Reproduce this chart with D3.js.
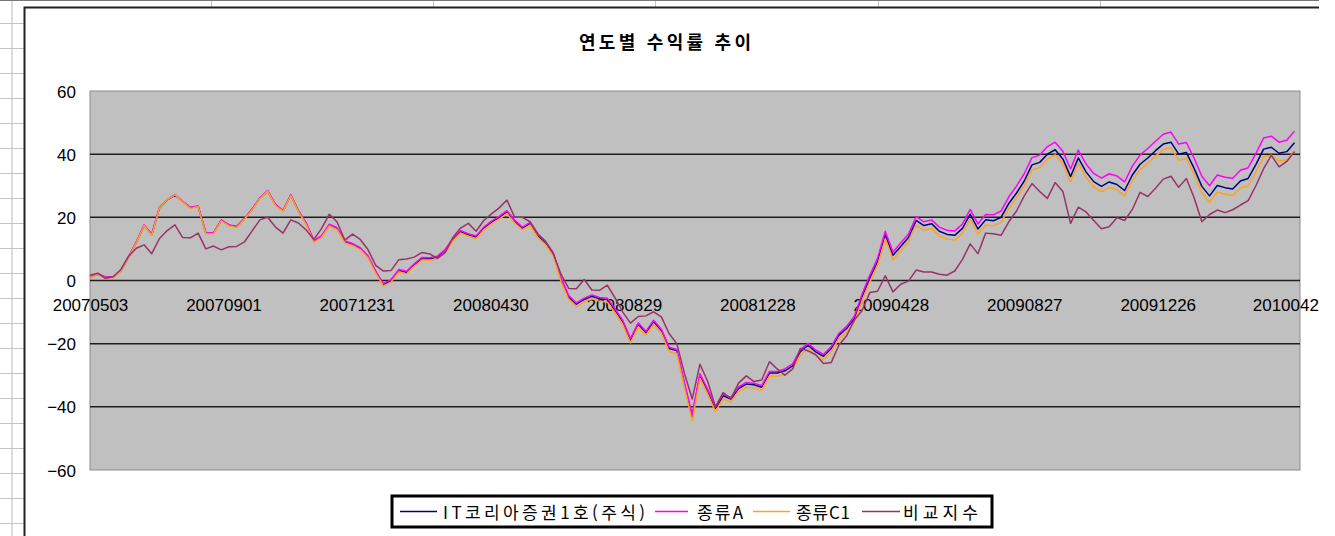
<!DOCTYPE html>
<html lang="ko">
<head>
<meta charset="UTF-8">
<title>연도별 수익률 추이</title>
<script src="https://d3js.org/d3.v7.min.js"></script>
<style>
  body { margin: 0; background: #fff; }
  svg { display: block; }
  .num { font-family: "Liberation Sans", Arial, sans-serif; font-size: 17px; fill: #000; }
  .kr { font-family: "Noto Sans CJK KR", "Noto Sans", sans-serif; fill: #000; }
</style>
</head>
<body>
<svg id="chart" width="1335" height="536"></svg>
<script>
// 날짜 축 (주 단위 관측, 2007-05-03 부터)
const startDate = "20070503";
const endDate = "20100504";
const stepDays = 7;
const tickLabels = ["20070503", "20070901", "20071231", "20080430", "20080829",
                    "20081228", "20090428", "20090827", "20091226", "20100425"];
const yTicks = [-60, -40, -20, 0, 20, 40, 60];

const seriesNames = ["IT코리아증권1호(주식)", "종류A", "종류C1", "비교지수"];
const seriesColors = ["#000080", "#ff00ff", "#ffa31a", "#993366"];

// IT코리아증권1호(주식)
const fundMain = [
  1, 2, 1, 1, 3, 7.5, 12, 17.5, 14.5, 23,
  25.5, 27, 25, 23, 23.5, 15, 15, 19, 17.5, 17,
  19.5, 22.5, 26, 28.3, 24, 22, 27, 22, 18, 12.5,
  14, 17.6, 16.5, 12.3, 11.5, 10.2, 7.6, 2.8, -1.2, 0,
  3.2, 2.6, 5, 7, 6.9, 7.4, 9.5, 13, 15.5, 14.5,
  13.8, 16.6, 18.5, 20, 21.8, 18.8, 16.6, 18.1, 14.2, 12,
  8.5, 0.5, -5.2, -7.5, -6, -5, -5.8, -6, -9.4, -13,
  -18.8, -13.8, -16.5, -13, -15.8, -21.5, -22.2, -33, -43, -30,
  -35, -40.5, -36.5, -37.5, -34.2, -32.8, -33, -33.8, -29.3, -29.3,
  -28.6, -27, -22.5, -20.5, -22.6, -24, -21.5, -17.3, -15.2, -12,
  -5.1, 0.8, 6, 14.5, 8, 10.8, 13.6, 19, 17.4, 18,
  15.6, 14.6, 14.3, 16.5, 21, 16.3, 19.2, 18.9, 20, 24.4,
  27.7, 31.5, 36.6, 37.4, 40, 41.4, 38.5, 32.9, 38.8, 34.4,
  31.3, 29.8, 31.2, 30.4, 28.5, 33.4, 36.8, 38.8, 41.1, 43.2,
  43.8, 40, 40.5, 35.5, 29.8, 26.8, 30.1, 29.4, 29, 31.5,
  32.3, 36.7, 41.6, 42.2, 40.3, 40.8, 43.6
];

// 종류A
const classA = [
  1.2, 2.2, 1.1, 1.2, 3.2, 7.6, 12.2, 17.6, 14.7, 23.1,
  25.6, 27.2, 25.1, 23.2, 23.6, 15.2, 15.1, 19.2, 17.6, 17.2,
  19.6, 22.7, 26.1, 28.5, 24.2, 22.1, 27.2, 22.1, 18.2, 12.7,
  14.2, 17.8, 16.7, 12.5, 11.7, 10.4, 7.8, 3, -1, 0.3,
  3.5, 2.9, 5.3, 7.3, 7.2, 7.7, 9.8, 13.3, 15.8, 14.8,
  14.1, 16.9, 18.8, 20.3, 22.1, 19.1, 16.9, 18.4, 14.5, 12.3,
  8.8, 0.9, -4.8, -7.1, -5.6, -4.6, -5.4, -5.6, -9, -12.6,
  -18.4, -13.4, -16.1, -12.6, -15.4, -21.1, -21.8, -32.5, -42.5, -29.5,
  -34.5, -40, -36, -37, -33.7, -32.3, -32.5, -33.3, -28.8, -28.8,
  -28, -26.4, -21.9, -19.9, -22, -23.4, -20.9, -16.7, -14.5, -11.3,
  -4.3, 1.7, 7, 15.6, 9, 11.9, 14.7, 20.2, 18.6, 19.2,
  16.9, 15.9, 15.7, 17.9, 22.5, 17.9, 20.9, 20.8, 22, 26.5,
  29.9, 33.8, 38.9, 39.7, 42.4, 43.8, 40.9, 35.3, 41.3, 36.9,
  33.9, 32.4, 33.8, 33.1, 31.2, 36.2, 39.7, 41.8, 44.1, 46.3,
  47, 43.2, 43.7, 38.7, 33, 30, 33.4, 32.7, 32.4, 34.9,
  35.7, 40.2, 45.1, 45.7, 43.8, 44.4, 47.3
];

// 종류C1
const classC1 = [
  0.9, 1.8, 0.8, 0.9, 2.9, 7.4, 11.9, 17.5, 14.3, 23,
  25.6, 27.1, 24.9, 22.8, 23.4, 14.8, 14.8, 18.9, 17.3, 16.8,
  19.4, 22.4, 25.9, 28.3, 23.8, 21.8, 26.9, 21.8, 17.7, 12.1,
  13.7, 17.3, 16.1, 11.9, 11.1, 9.8, 7.2, 2.3, -1.8, -0.5,
  2.7, 2.1, 4.5, 6.5, 6.4, 6.9, 9, 12.5, 15, 14,
  13.2, 16, 17.9, 19.4, 21.2, 18.2, 16, 17.5, 13.6, 11.3,
  7.8, -0.3, -6, -8.4, -6.8, -5.8, -6.6, -6.8, -10.3, -14,
  -19.8, -14.7, -17.4, -13.9, -16.7, -22.5, -23.2, -34, -44.5, -31,
  -36, -41.5, -37.5, -38.5, -35.2, -33.8, -34, -34.8, -30.3, -30.3,
  -29.7, -28.1, -23.6, -21.6, -23.7, -25.1, -22.6, -18.4, -16.4, -13.2,
  -6.3, -0.5, 4.7, 13.2, 6.6, 9.4, 12.2, 17.5, 15.9, 16.5,
  14.1, 13.1, 12.8, 15, 19.4, 14.7, 17.6, 17.3, 18.4, 22.8,
  26.1, 29.9, 35, 35.8, 38.4, 39.8, 36.9, 31.2, 37.1, 32.7,
  29.6, 28.1, 29.5, 28.7, 26.8, 31.7, 35.1, 37.1, 39.4, 41.5,
  42, 38.1, 38.6, 33.5, 27.8, 24.8, 28, 27.3, 26.9, 29.3,
  30, 34.3, 39.1, 39.7, 37.8, 38.2, 41
];

// 비교지수
const benchmark = [
  1.7, 2.3, 0.7, 1.2, 3.5, 7.7, 10.2, 11.3, 8.5, 13.3,
  15.8, 17.6, 13.6, 13.5, 15, 10, 10.9, 9.7, 10.7, 10.8,
  12.2, 15.7, 19.2, 20, 17, 15, 19.2, 18.2, 16, 13,
  16.5, 21, 18.5, 12.8, 14.7, 13, 9.8, 4.8, 3, 3.2,
  6.6, 6.8, 7.4, 8.9, 8.4, 7, 8.8, 13.6, 16.6, 18.1,
  15.6, 19, 21.1, 23, 25.5, 20, 20, 18.6, 14.8, 12.4,
  8.5, 2, -2.5, -2.6, 0.3, -3, -3.1, -1.5, -5.5, -10,
  -13.5, -11.4, -11.2, -9.9, -11.5, -16.8, -20, -29.5, -37.5, -26.5,
  -32, -40, -35.5, -37.5, -32.5, -30.2, -32, -31.5, -25.7, -28,
  -30, -28, -21.5, -22.3, -23.5, -26.3, -26, -20.4, -17.5, -12.5,
  -9.5, -3.8, -3.4, 1.5, -3.6, -1.2, -0.2, 3.3, 2.7, 2.7,
  2, 1.7, 3, 6.7, 11.6, 8.5, 15, 14.8, 14.3, 18.6,
  22, 26.8, 30.7, 28.2, 26, 31, 28.2, 18.1, 23.2, 21.7,
  19, 16.4, 17, 19.9, 19, 22.5, 27.9, 26.6, 29.2, 32.1,
  33, 29.5, 32.3, 26.2, 18.6, 20.9, 22.3, 21.5, 22.4, 23.9,
  25.3, 30, 35.4, 39.6, 36, 37.7, 40.8
];

const parse = d3.timeParse("%Y%m%d");
const fmt = d3.timeFormat("%Y%m%d");
const t0 = parse(startDate);
const dates = fundMain.map((_, i) => d3.timeDay.offset(t0, i * stepDays));
const allSeries = [fundMain, classA, classC1, benchmark];

const svg = d3.select("#chart");
const W = 1335, H = 536;
const chartRight = 1319;   // 화면에서 잘리는 차트 영역 오른쪽 끝

svg.append("defs").append("clipPath").attr("id", "screen")
  .append("rect").attr("x", 0).attr("y", 0).attr("width", chartRight).attr("height", H);

const root = svg.append("g").attr("clip-path", "url(#screen)");

// 엑셀 시트 배경 (왼쪽 행 머리, 위쪽 열 구분선)
const sheet = root.append("g");
sheet.append("line").attr("x1", 12).attr("x2", 12).attr("y1", 0).attr("y2", H)
  .attr("stroke", "#b8b8b8").attr("stroke-width", 1);
sheet.selectAll(".row").data(d3.range(23, H, 25)).join("line")
  .attr("x1", 0).attr("x2", 24).attr("y1", d => d + 0.5).attr("y2", d => d + 0.5)
  .attr("stroke", "#c4c4c4").attr("stroke-width", 1);
sheet.selectAll(".col").data([211, 433, 655, 878, 1100]).join("line")
  .attr("x1", d => d + 0.5).attr("x2", d => d + 0.5).attr("y1", 0).attr("y2", 7)
  .attr("stroke", "#c4c4c4").attr("stroke-width", 1);
sheet.append("line").attr("x1", 0).attr("x2", chartRight).attr("y1", 0.5).attr("y2", 0.5)
  .attr("stroke", "#777").attr("stroke-width", 1);

// 차트 영역
root.append("rect").attr("x", 24.5).attr("y", 7.5)
  .attr("width", W).attr("height", H)
  .attr("fill", "#fff").attr("stroke", "#222").attr("stroke-width", 2);

// 제목
root.append("text").attr("class", "kr")
  .attr("x", 665).attr("y", 41)
  .attr("text-anchor", "middle").attr("dominant-baseline", "central")
  .attr("font-size", 18).attr("font-weight", "bold")
  .attr("textLength", 172).attr("lengthAdjust", "spacing")
  .text("연도별 수익률 추이");

const plot = { left: 90, right: 1300, top: 91, bottom: 470 };

const x = d3.scaleTime()
  .domain([t0, parse(endDate)])
  .range([plot.left, plot.right]);
const y = d3.scaleLinear()
  .domain([d3.min(yTicks), d3.max(yTicks)])
  .range([plot.bottom, plot.top]);

// 그림 영역 배경
root.append("rect")
  .attr("x", plot.left).attr("y", plot.top)
  .attr("width", plot.right - plot.left).attr("height", plot.bottom - plot.top)
  .attr("fill", "#c0c0c0").attr("stroke", "#8c8c8c").attr("stroke-width", 1);

// 눈금선
root.append("g").selectAll("line")
  .data(yTicks.filter(v => v !== d3.min(yTicks) && v !== d3.max(yTicks)))
  .join("line")
  .attr("x1", plot.left).attr("x2", plot.right)
  .attr("y1", d => y(d)).attr("y2", d => y(d))
  .attr("stroke", "#1e1e1e").attr("stroke-width", 1.5);

// y 축 레이블
const yAxis = d3.axisLeft(y).tickValues(yTicks).tickSize(0).tickPadding(14);
const gy = root.append("g").attr("transform", `translate(${plot.left},0)`).call(yAxis);
gy.select(".domain").remove();
gy.selectAll("text").attr("class", "num").attr("font-family", null).attr("font-size", null)
  .attr("dy", "0.36em");

// x 축 레이블 (0 선 아래)
const xAxis = d3.axisBottom(x)
  .tickValues(tickLabels.map(parse))
  .tickFormat(fmt).tickSize(0).tickPadding(18);
const gx = root.append("g").attr("transform", `translate(0,${y(0)})`).call(xAxis);
gx.select(".domain").remove();
gx.selectAll("text").attr("class", "num").attr("font-family", null).attr("font-size", null);

// 계열 선
const line = d3.line()
  .x((d, i) => x(dates[i]))
  .y(d => y(d));

root.append("g").selectAll("path")
  .data(allSeries)
  .join("path")
  .attr("d", d => line(d))
  .attr("fill", "none")
  .attr("stroke", (d, i) => seriesColors[i])
  .attr("stroke-width", 1.5)
  .attr("stroke-linejoin", "round");

// 범례
const legendBox = { x: 392, y: 496, w: 600, h: 31 };
const legendLayout = [
  { lx: 400, lw: 37, tx: 443, tw: 202 },
  { lx: 655, lw: 33, tx: 697, tw: 46 },
  { lx: 753, lw: 37, tx: 796, tw: 54 },
  { lx: 862, lw: 38, tx: 903, tw: 75 }
];
const lg = root.append("g");
lg.append("rect")
  .attr("x", legendBox.x).attr("y", legendBox.y)
  .attr("width", legendBox.w).attr("height", legendBox.h)
  .attr("fill", "#fff").attr("stroke", "#000").attr("stroke-width", 3);
const cy = legendBox.y + legendBox.h / 2;
const items = lg.selectAll(".item").data(seriesNames).join("g");
items.append("line")
  .attr("x1", (d, i) => legendLayout[i].lx)
  .attr("x2", (d, i) => legendLayout[i].lx + legendLayout[i].lw)
  .attr("y1", cy).attr("y2", cy)
  .attr("stroke", (d, i) => seriesColors[i]).attr("stroke-width", 1.5);
items.append("text").attr("class", "kr")
  .attr("x", (d, i) => legendLayout[i].tx).attr("y", cy)
  .attr("dominant-baseline", "central")
  .attr("font-size", 17)
  .attr("textLength", (d, i) => legendLayout[i].tw).attr("lengthAdjust", "spacing")
  .text(d => d);
</script>
</body>
</html>
